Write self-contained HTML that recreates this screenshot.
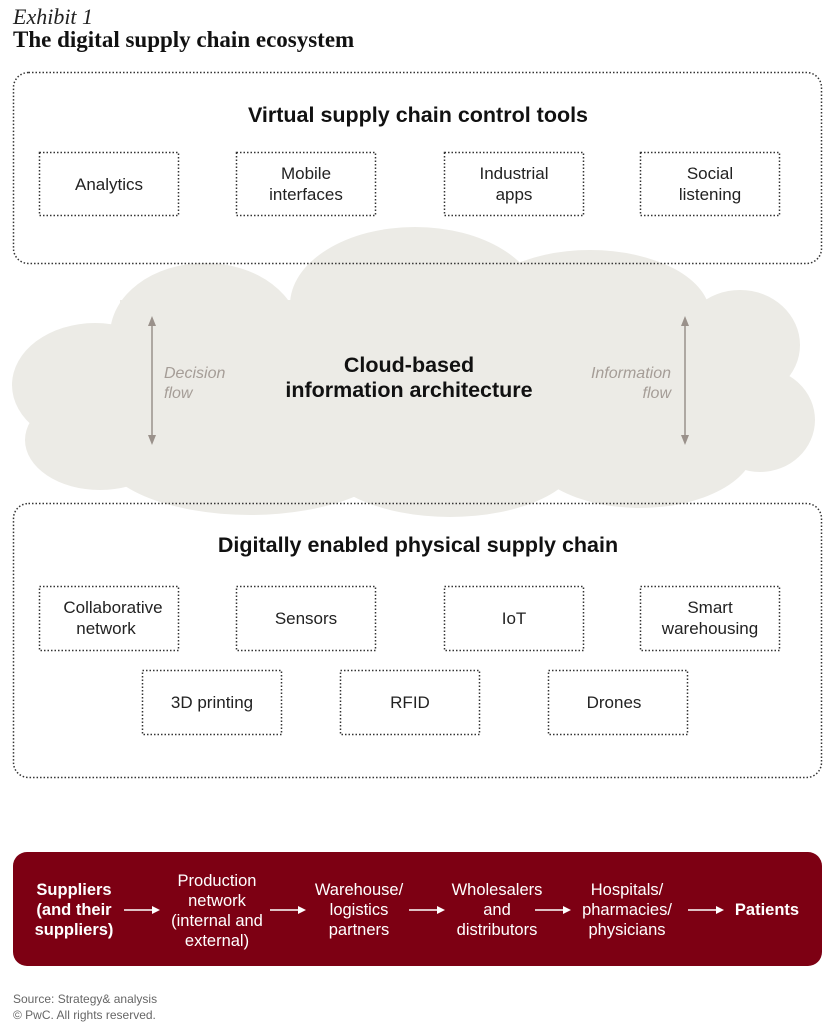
<!DOCTYPE html>
<html><head><meta charset="utf-8"><style>
html,body{margin:0;padding:0;background:#fff;}
svg{display:block;}
text{font-family:"Liberation Sans",Arial,sans-serif;}
</style></head><body>
<svg width="837" height="1024" viewBox="0 0 837 1024" xmlns="http://www.w3.org/2000/svg">
<text x="13" y="24" font-style="italic" font-size="22" fill="#222" style="font-family:'Liberation Serif',serif">Exhibit 1</text>
<text x="13" y="47" font-size="23" font-weight="bold" fill="#111" style="font-family:'Liberation Serif',serif">The digital supply chain ecosystem</text>

<g fill="#ecebe6">
<ellipse cx="205" cy="335" rx="95" ry="72"/>
<ellipse cx="415" cy="305" rx="125" ry="78"/>
<ellipse cx="590" cy="315" rx="120" ry="65"/>
<ellipse cx="740" cy="345" rx="60" ry="55"/>
<ellipse cx="760" cy="420" rx="55" ry="52"/>
<ellipse cx="95" cy="385" rx="83" ry="62"/>
<ellipse cx="100" cy="440" rx="75" ry="50"/>
<ellipse cx="250" cy="450" rx="150" ry="65"/>
<ellipse cx="450" cy="455" rx="130" ry="62"/>
<ellipse cx="640" cy="445" rx="115" ry="63"/>
<rect x="120" y="300" width="650" height="170"/>
</g>

<g fill="none" stroke="#333" stroke-width="1.5" stroke-dasharray="1.5 2">
<rect x="13.5" y="72.5" width="808" height="191" rx="15"/>
<rect x="39.5" y="152.5" width="139" height="63"/>
<rect x="236.5" y="152.5" width="139" height="63"/>
<rect x="444.5" y="152.5" width="139" height="63"/>
<rect x="640.5" y="152.5" width="139" height="63"/>
<rect x="13.5" y="503.5" width="808" height="274" rx="15"/>
<rect x="39.5" y="586.5" width="139" height="64"/>
<rect x="236.5" y="586.5" width="139" height="64"/>
<rect x="444.5" y="586.5" width="139" height="64"/>
<rect x="640.5" y="586.5" width="139" height="64"/>
<rect x="142.5" y="670.5" width="139" height="64"/>
<rect x="340.5" y="670.5" width="139" height="64"/>
<rect x="548.5" y="670.5" width="139" height="64"/>
</g>

<g font-size="17" fill="#222" text-anchor="middle">
<text x="418" y="122" font-size="21.5" font-weight="bold" fill="#111">Virtual supply chain control tools</text>
<text x="109" y="190">Analytics</text>
<text x="306" y="179">Mobile</text><text x="306" y="200">interfaces</text>
<text x="514" y="179">Industrial</text><text x="514" y="200">apps</text>
<text x="710" y="179">Social</text><text x="710" y="200">listening</text>
<text x="418" y="552" font-size="21.5" font-weight="bold" fill="#111">Digitally enabled physical supply chain</text>
<text x="113" y="613">Collaborative</text><text x="106" y="634">network</text>
<text x="306" y="624">Sensors</text>
<text x="514" y="624">IoT</text>
<text x="710" y="613">Smart</text><text x="710" y="634">warehousing</text>
<text x="212" y="708">3D printing</text>
<text x="410" y="708">RFID</text>
<text x="614" y="708">Drones</text>
<text x="409" y="372" font-size="21.5" font-weight="bold" fill="#111">Cloud-based</text>
<text x="409" y="397" font-size="21.5" font-weight="bold" fill="#111">information architecture</text>
</g>

<g stroke="#9a918b" stroke-width="1.5" fill="#9a918b">
<line x1="152" y1="320" x2="152" y2="441"/>
<path d="M148,326 L152,316 L156,326 Z M148,435 L152,445 L156,435 Z" stroke="none"/>
<line x1="685" y1="320" x2="685" y2="441"/>
<path d="M681,326 L685,316 L689,326 Z M681,435 L685,445 L689,435 Z" stroke="none"/>
</g>
<g font-size="16" font-style="italic" fill="#a59d97">
<text x="164" y="378">Decision</text><text x="164" y="398">flow</text>
<text x="671" y="378" text-anchor="end">Information</text><text x="671" y="398" text-anchor="end">flow</text>
</g>

<rect x="13" y="852" width="809" height="114" rx="14" fill="#7d0013"/>
<g font-size="16.5" fill="#fff" text-anchor="middle">
<text x="74" y="895" font-weight="bold">Suppliers</text>
<text x="74" y="915" font-weight="bold">(and their</text>
<text x="74" y="935" font-weight="bold">suppliers)</text>
<text x="217" y="886">Production</text><text x="217" y="906">network</text><text x="217" y="926">(internal and</text><text x="217" y="946">external)</text>
<text x="359" y="895">Warehouse/</text><text x="359" y="915">logistics</text><text x="359" y="935">partners</text>
<text x="497" y="895">Wholesalers</text><text x="497" y="915">and</text><text x="497" y="935">distributors</text>
<text x="627" y="895">Hospitals/</text><text x="627" y="915">pharmacies/</text><text x="627" y="935">physicians</text>
<text x="767" y="915" font-weight="bold">Patients</text>
</g>
<g stroke="#fff" stroke-width="1.5" fill="#fff">
<line x1="124" y1="910" x2="154" y2="910"/><path d="M152,906 L160,910 L152,914Z" stroke="none"/>
<line x1="270" y1="910" x2="300" y2="910"/><path d="M298,906 L306,910 L298,914Z" stroke="none"/>
<line x1="409" y1="910" x2="439" y2="910"/><path d="M437,906 L445,910 L437,914Z" stroke="none"/>
<line x1="535" y1="910" x2="565" y2="910"/><path d="M563,906 L571,910 L563,914Z" stroke="none"/>
<line x1="688" y1="910" x2="718" y2="910"/><path d="M716,906 L724,910 L716,914Z" stroke="none"/>
</g>
<text x="13" y="1003" font-size="12" fill="#666">Source: Strategy&amp; analysis</text>
<text x="13" y="1019" font-size="12" fill="#666">© PwC. All rights reserved.</text>
</svg>
</body></html>
